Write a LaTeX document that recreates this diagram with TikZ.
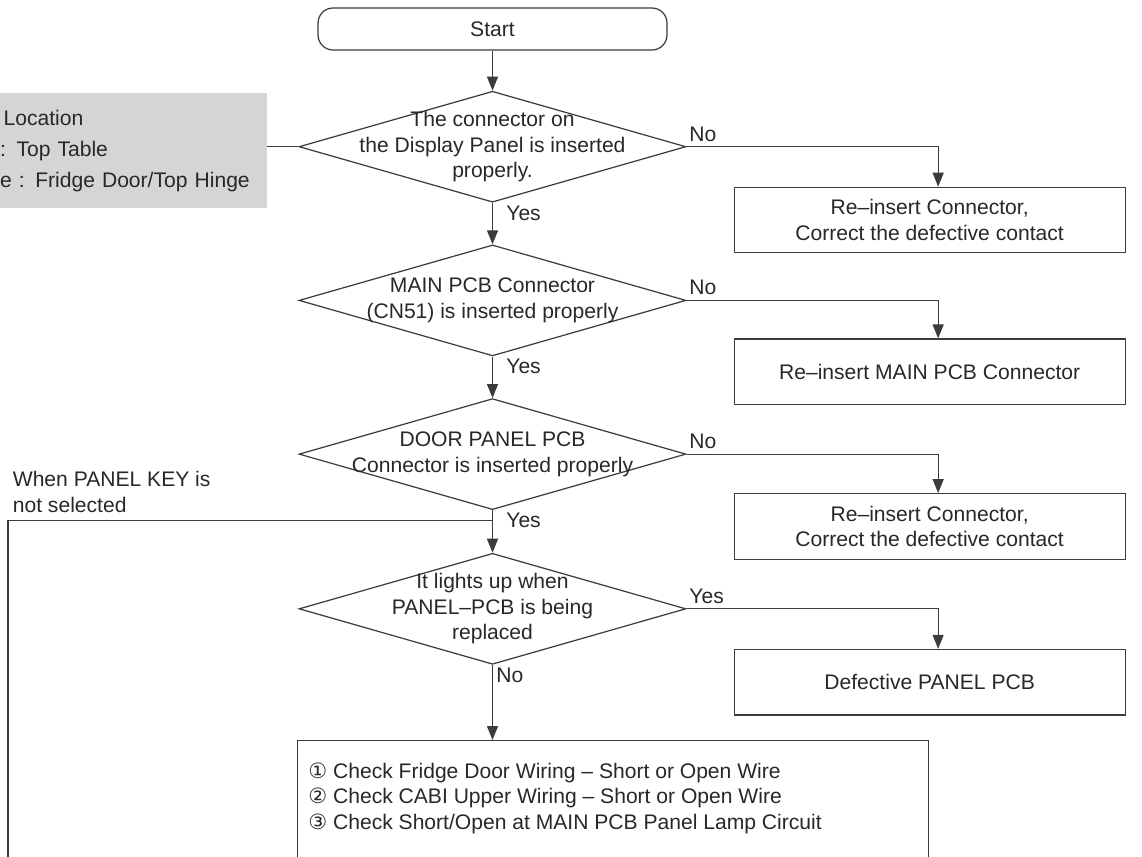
\documentclass[tikz,border=0pt]{standalone}
\usepackage{fontspec}
\setsansfont{Liberation Sans}
\newfontfamily\circfont{DejaVu Sans}
\usetikzlibrary{positioning, arrows.meta, shapes.geometric}
\definecolor{linegray}{RGB}{60,60,60}
\definecolor{panelgray}{RGB}{212,213,215}
\definecolor{textgray}{RGB}{40,40,40}

\begin{document}
\begin{tikzpicture}[
    x=0.02cm, y=-0.02cm,
    % --- Styles ---
    base/.style={
        font=\sffamily\fontsize{12}{14.5}\selectfont,
        text=textgray
    },
    startbox/.style={
        base,
        rectangle,
        rounded corners=0.3cm,
        draw=linegray,
        line width=0.7pt,
        minimum width=6.98cm,
        minimum height=0.84cm
    },
    decision/.style={
        diamond,
        draw=linegray,
        line width=0.7pt,
        minimum width=7.74cm,
        minimum height=2.22cm,
        inner sep=0pt
    },
    dtext/.style={
        base,
        align=center
    },
    block/.style={
        base,
        rectangle,
        draw=linegray,
        line width=0.7pt,
        minimum width=7.82cm,
        minimum height=1.31cm,
        align=center
    },
    checkbox/.style={
        rectangle,
        draw=linegray,
        line width=0.7pt,
        minimum width=12.62cm,
        minimum height=3cm
    },
    locbox/.style={
        base,
        font=\sffamily\fontsize{12}{17.6}\selectfont,
        rectangle,
        fill=panelgray,
        minimum width=5.34cm,
        minimum height=2.3cm,
        text width=5.34cm,
        inner xsep=0pt,
        align=left
    },
    lbl/.style={
        base,
        inner sep=0.05cm
    },
    arrow/.style={
        -{Triangle[length=0.28cm, width=0.22cm]},
        draw=linegray,
        line width=0.7pt
    },
    line/.style={
        draw=linegray,
        line width=0.7pt
    }
]
\useasboundingbox (0,0) rectangle (1142,856);
\clip (0,0) rectangle (1142,856);

% --- Nodes (relative positioning) ---
\node[startbox] (start) at (492.5,29) {Start};

\node[decision, below=0.8cm of start,
    label={[dtext]center:{The connector on\\the Display Panel is inserted\\properly.}}] (q1) {};
\node[decision, below=0.83cm of q1,
    label={[dtext]center:{MAIN PCB Connector\\(CN51) is inserted properly}}] (q2) {};
\node[decision, below=0.83cm of q2,
    label={[dtext]center:{DOOR PANEL PCB\\Connector is inserted properly}}] (q3) {};
\node[decision, below=0.85cm of q3,
    label={[dtext]center:{It lights up when\\PANEL--PCB is being\\replaced}}] (q4) {};

\node[block, below right=0.8cm and 0.94cm of q1.east] (b1)
    {Re--insert Connector,\\Correct the defective contact};
\node[block, below right=0.76cm and 0.94cm of q2.east] (b2)
    {Re--insert MAIN PCB Connector};
\node[block, below right=0.78cm and 0.94cm of q3.east] (b3)
    {Re--insert Connector,\\Correct the defective contact};
\node[block, below right=0.8cm and 0.94cm of q4.east] (b4)
    {Defective PANEL PCB};

\node[locbox, left=0.62cm of q1, yshift=-0.08cm] (loc)
    {\,Location\\: Top Table\\e : Fridge Door/Top Hinge};

\node[checkbox, anchor=north west] (check) at (297,740) {};
\node[lbl, align=left, below right=0.4cm and 0.17cm of check.north west] (checktxt)
    {{\circfont ①} Check Fridge Door Wiring -- Short or Open Wire\\
     {\circfont ②} Check CABI Upper Wiring -- Short or Open Wire\\
     {\circfont ③} Check Short/Open at MAIN PCB Panel Lamp Circuit};

% Yes / No labels
\node[lbl, above right=0.05cm and 0cm of q1.east] (n1) {No};
\node[lbl, below right=0cm and 0.22cm of q1.south] (y1) {Yes};
\node[lbl, above right=0.05cm and 0cm of q2.east] (n2) {No};
\node[lbl, below right=0cm and 0.22cm of q2.south] (y2) {Yes};
\node[lbl, above right=0.05cm and 0cm of q3.east] (n3) {No};
\node[lbl, below right=0cm and 0.22cm of q3.south] (y3) {Yes};
\node[lbl, above right=0.05cm and 0cm of q4.east] (y4) {Yes};
\node[lbl, below right=0cm and 0.02cm of q4.south] (n4) {No};

% loop from panel key
\coordinate[below=0.2cm of q3.south] (j3);
\coordinate (loopend) at (8,880);
\coordinate (loopcorner) at (loopend |- j3);
\node[lbl, align=left, above right=0.1cm and 0.04cm of loopcorner] (keytxt)
    {When PANEL KEY is\\not selected};

% --- Arrows ---
\draw[arrow] (start) -- (q1);
\draw[arrow] (q1) -- (q2);
\draw[arrow] (q2) -- (q3);
\draw[arrow] (q3) -- (q4);
\draw[arrow] (q4.south) -- (q4.south |- check.north);

\draw[arrow] (q1.east) -| ([xshift=0.17cm]b1.north);
\draw[arrow] (q2.east) -| ([xshift=0.17cm]b2.north);
\draw[arrow] (q3.east) -| ([xshift=0.17cm]b3.north);
\draw[arrow] (q4.east) -| ([xshift=0.17cm]b4.north);

\draw[line] (loc.east |- q1.west) -- (q1.west);
\draw[line] (loopend) -- (loopcorner) -- (j3);
\end{tikzpicture}
\end{document}
